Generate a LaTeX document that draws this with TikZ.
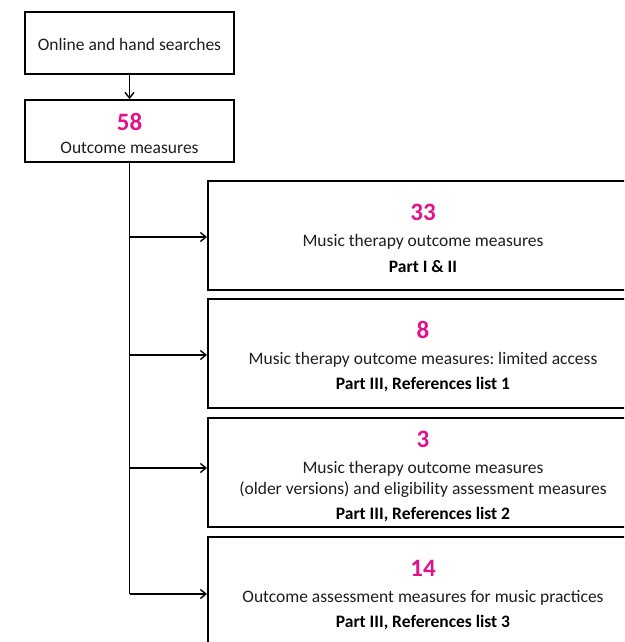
\documentclass[tikz,border=0pt]{standalone}
\usepackage{fontspec}
\setmainfont{Carlito}
\usetikzlibrary{arrows.meta}
\frenchspacing
\definecolor{pinknum}{RGB}{226,18,140}
\definecolor{txt}{RGB}{30,30,30}
\tikzset{
  box/.style={draw=black, line width=2pt, minimum width=209pt, minimum height=62pt, inner sep=0pt},
  rbox/.style={draw=black, line width=2pt, minimum width=430pt, minimum height=109pt, inner sep=0pt},
  num/.style={text=pinknum, font=\fontsize{25}{27}\selectfont\bfseries, inner sep=0pt},
  body/.style={text=txt, font=\fontsize{17.5}{19}\selectfont, inner sep=0pt},
  part/.style={text=black, font=\fontsize{17.5}{19}\selectfont\bfseries, inner sep=0pt},
  conn/.style={line width=1.4pt, draw=black},
  arr/.style={conn, -{Straight Barb[length=5.5pt,width=9pt,line width=1.4pt]}}
}
\begin{document}
\begin{tikzpicture}[x=1pt,y=-1pt]
\useasboundingbox (0,0) rectangle (624,642);
\clip (0,0) rectangle (624,642);
\fill[white] (0,0) rectangle (624,642);
% left boxes
\node[box] (b1) at (129.5,43) {};
\node[body] (t1) at (129.5,44) {Online and hand searches};
\node[box] (b2) at (129.5,131) {};
\node[num] (n2) at (129.5,122) {58};
\node[body] (t2) at (129.5,147.5) {Outcome measures};
% right boxes
\node[rbox] (rA) at (423,235.5) {};
\node[num] (nA) at (423,212) {33};
\node[body] (tA) at (423,242) {Music therapy outcome measures};
\node[part] (pA) at (423,267) {Part I \& II};

\node[rbox] (rB) at (423,353.5) {};
\node[num] (nB) at (423,330) {8};
\node[body] (tB) at (423,360) {Music therapy outcome measures: limited access};
\node[part] (pB) at (423,385) {Part III, References list 1};

\node[rbox] (rC) at (423,472.5) {};
\node[num] (nC) at (423,439) {3};
\node[body] (tC1) at (423,469) {Music therapy outcome measures};
\node[body] (tC2) at (423,490) {(older versions) and eligibility assessment measures};
\node[part] (pC) at (423,515) {Part III, References list 2};

\node[rbox] (rD) at (423,591.5) {};
\node[num] (nD) at (423,568) {14};
\node[body] (tD) at (423,598) {Outcome assessment measures for music practices};
\node[part] (pD) at (423,623) {Part III, References list 3};

% connectors
\draw[arr] (b1.south) -- (b2.north);
\coordinate (jA) at (129.5,237);
\coordinate (jB) at (129.5,355);
\coordinate (jC) at (129.5,468);
\coordinate (jD) at (129.5,594);
\draw[conn] (b2.south) -- (jD);
\draw[arr] (jA) -- (rA.west |- jA);
\draw[arr] (jB) -- (rB.west |- jB);
\draw[arr] (jC) -- (rC.west |- jC);
\draw[arr] (jD) -- (rD.west |- jD);
\end{tikzpicture}
\end{document}
